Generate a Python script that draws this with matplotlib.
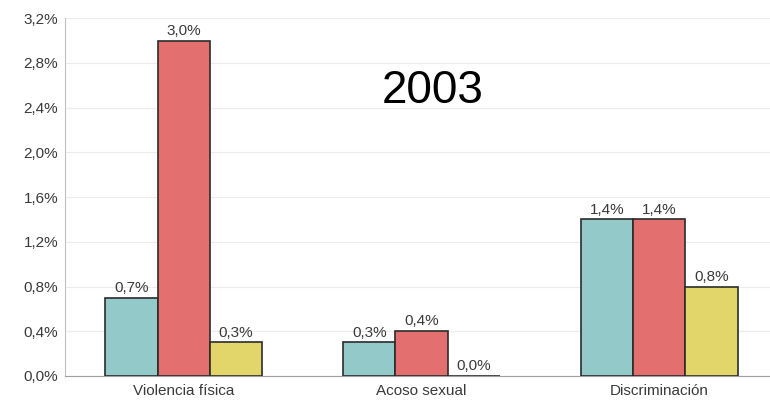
import numpy as np
import matplotlib.pyplot as plt

plt.rcParams['font.family'] = ['Liberation Sans', 'DejaVu Sans']

categorias = ['Violencia física', 'Acoso sexual', 'Discriminación']
serie_1 = [0.7, 0.3, 1.4]
serie_2 = [3.0, 0.4, 1.4]
serie_3 = [0.3, 0.0, 0.8]
ticks_y = [0.0, 0.4, 0.8, 1.2, 1.6, 2.0, 2.4, 2.8, 3.2]
titulo = '2003'

colores = ['#93c9c9', '#e36f6f', '#e2d66a']
ancho = 0.22


def fmt(v):
    return '{:.1f}%'.format(v).replace('.', ',')


fig = plt.figure(figsize=(7.7, 4.03), dpi=100)
ax = fig.add_axes([0.0844, 0.067, 0.92, 0.888])

x = np.arange(len(categorias))
for i, (serie, cor) in enumerate(zip([serie_1, serie_2, serie_3], colores)):
    pos = x + (i - 1) * ancho
    ax.bar(pos, serie, width=ancho, color=cor, edgecolor='#2b2b2b', linewidth=1.2, zorder=3)
    for p, v in zip(pos, serie):
        ax.annotate(fmt(v), (p, v), textcoords='offset points', xytext=(0, 2),
                    ha='center', va='bottom', fontsize=11, color='#3a3a3a', zorder=4)

ax.set_xlim(-0.5, 2.48)
ax.set_ylim(0, 3.2)
ax.set_yticks(ticks_y)
ax.set_yticklabels([fmt(t) for t in ticks_y])
ax.set_xticks(x)
ax.set_xticklabels(categorias)
ax.tick_params(axis='both', length=0, labelsize=11, labelcolor='#3a3a3a', pad=5)
ax.tick_params(axis='x', pad=6)

ax.grid(axis='y', color='#ececec', linewidth=0.8, zorder=0)
for lado in ['top', 'right']:
    ax.spines[lado].set_visible(False)
ax.spines['left'].set_color('#c0c0c0')
ax.spines['bottom'].set_color('#a0a0a0')

ax.text(0.519, 0.795, titulo, transform=ax.transAxes, ha='center', va='center',
        fontsize=33, color='black')

plt.savefig('out.png', dpi=100)
plt.close(fig)
